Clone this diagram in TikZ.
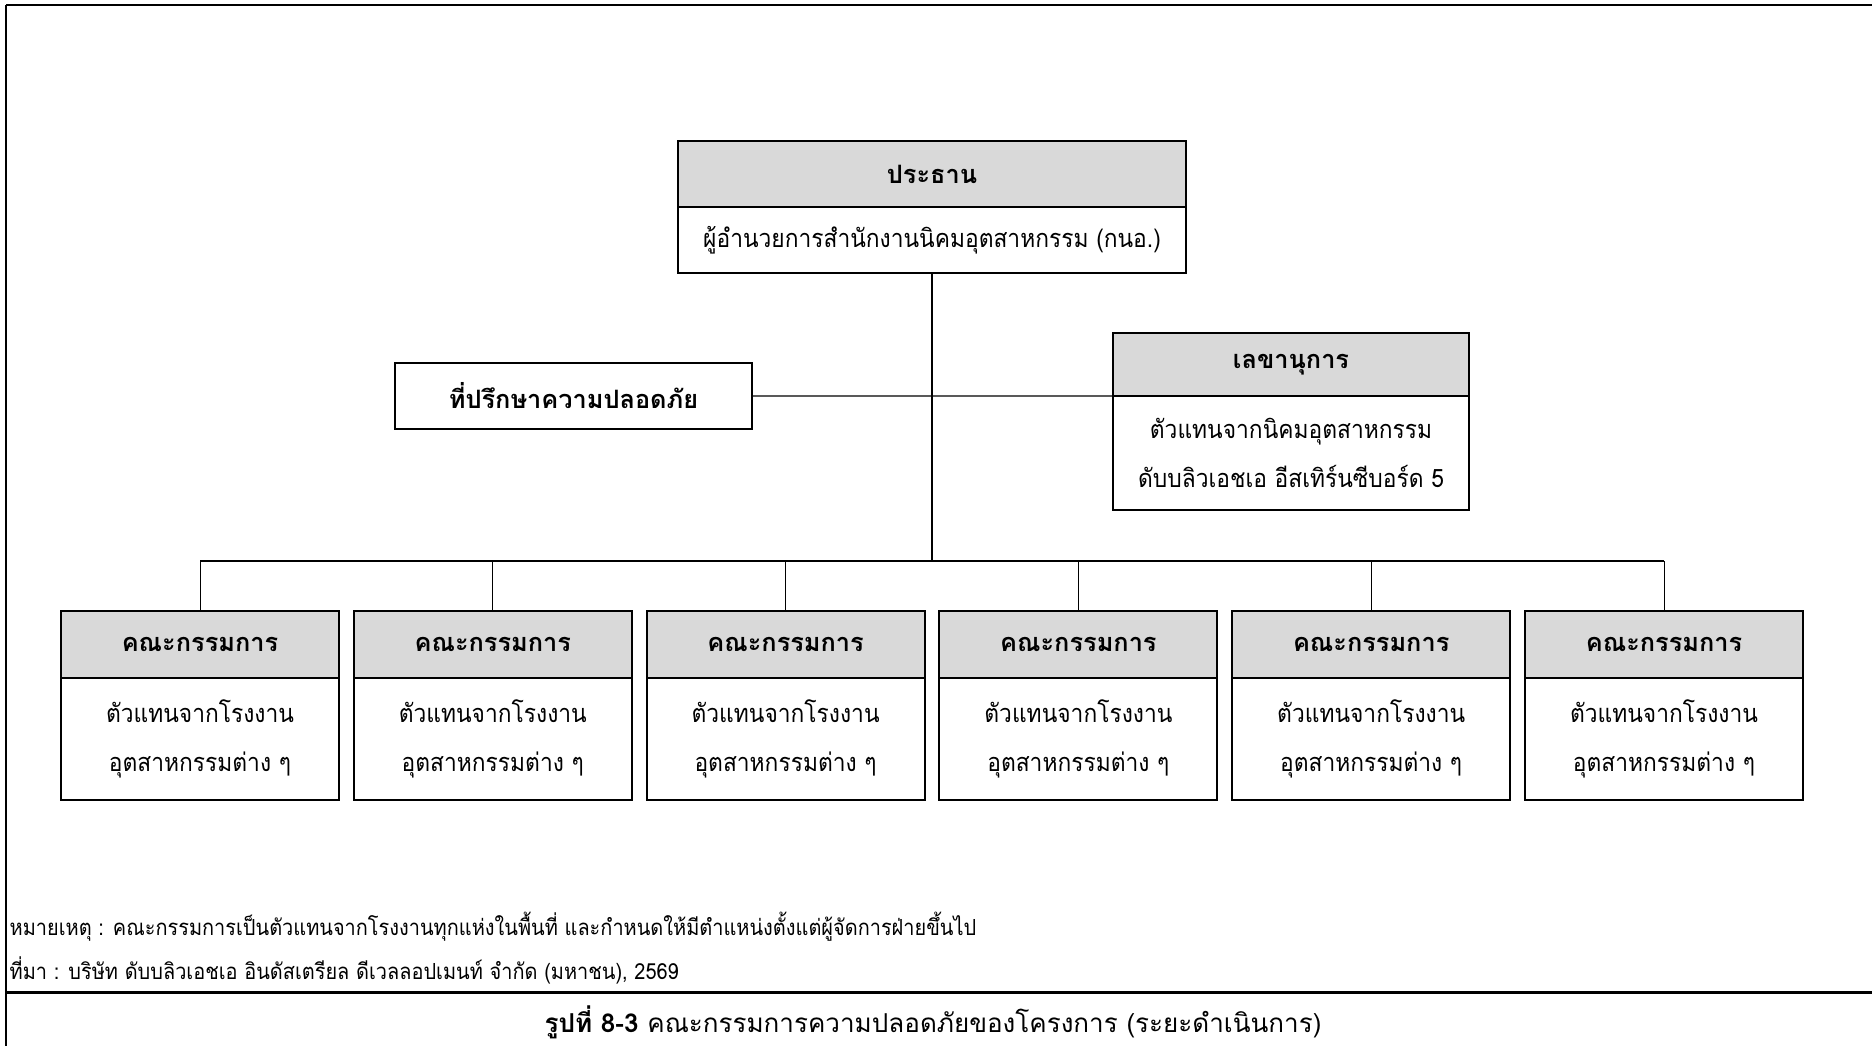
\documentclass[tikz,border=0pt]{standalone}
\usepackage{fontspec}
\setmainfont[Script=Thai]{Loma}
\newfontfamily\narrowthai[Script=Thai,FakeStretch=0.9]{Loma}
\usetikzlibrary{positioning}
\definecolor{HeadGray}{HTML}{D9D9D9}

\tikzset{
  headbox/.style={draw,line width=0.02cm,fill=HeadGray,inner sep=0pt,outer sep=0pt,
    minimum height=0.66cm,font=\fontsize{7.2}{13.9}\selectfont\bfseries},
  bodybox/.style={draw,line width=0.02cm,fill=white,inner sep=0pt,outer sep=0pt,
    align=center,font=\fontsize{7.2}{13.9}\selectfont\narrowthai},
  link/.style={line width=0.013cm},
  notetext/.style={anchor=west,inner sep=0pt,font=\fontsize{6.3}{8}\selectfont\narrowthai}
}

\begin{document}
\begin{tikzpicture}[x=0.01cm,y=-0.01cm]
  \useasboundingbox (0,0) rectangle (1872,1046);
  % frame
  \draw[line width=0.012cm] (6,5) -- (1872,5);
  \draw[line width=0.022cm] (6,5) -- (35,5);
  \draw[line width=0.022cm] (1843,5) -- (1872,5);
  \draw[line width=0.02cm] (6,5) -- (6,1046);
  \draw[line width=0.03cm] (6,992) -- (1872,992);

  % chair
  \node[headbox,minimum width=5.08cm] (chair) at (932,174) {ประธาน};
  \node[bodybox,minimum width=5.08cm,minimum height=0.66cm,below=0pt of chair] (chairbody)
    {ผู้อำนวยการสำนักงานนิคมอุตสาหกรรม (กนอ.)};

  % advisor and secretary
  \node[bodybox,minimum width=3.57cm,minimum height=0.66cm,font=\fontsize{7.2}{13.9}\selectfont\bfseries] (advisor) at (573.5,396)
    {ที่ปรึกษาความปลอดภัย};
  \node[headbox,minimum width=3.56cm,minimum height=0.63cm] (sec) at (1291,364.5) {เลขานุการ};
  \node[bodybox,minimum width=3.56cm,minimum height=1.14cm,below=0pt of sec] (secbody)
    {ตัวแทนจากนิคมอุตสาหกรรม\\ดับบลิวเอชเอ อีสเทิร์นซีบอร์ด 5};

  % bus
  \coordinate (busL) at (200,561);
  \coordinate (busR) at (1664,561);
  \draw[link] (chairbody.south) -- (chairbody.south |- busL);
  \draw[link] (advisor.east) -- (sec.south west);
  \draw[line width=0.018cm] (busL) -- (busR);

  % committees
  \foreach \i in {0,...,5}{
    \node[headbox,minimum width=2.78cm] (com\i) at ({200+292.8*\i},644.5) {คณะกรรมการ};
    \node[bodybox,minimum width=2.78cm,minimum height=1.22cm,below=0pt of com\i] (combody\i)
      {ตัวแทนจากโรงงาน\\อุตสาหกรรมต่าง ๆ};
    \draw[line width=0.01cm] (com\i.north) -- (com\i.north |- busL);
  }

  % notes
  \node[notetext] (note) at (9,927)
    {หมายเหตุ : คณะกรรมการเป็นตัวแทนจากโรงงานทุกแห่งในพื้นที่ และกำหนดให้มีตำแหน่งตั้งแต่ผู้จัดการฝ่ายขึ้นไป};
  \node[notetext] (source) at (9,970)
    {ที่มา : บริษัท ดับบลิวเอชเอ อินดัสเตรียล ดีเวลลอปเมนท์ จำกัด (มหาชน), 2569};
  \node[inner sep=0pt,font=\fontsize{7.4}{9}\selectfont] (caption) at (933,1022)
    {\textbf{รูปที่ 8-3} คณะกรรมการความปลอดภัยของโครงการ (ระยะดำเนินการ)};
\end{tikzpicture}
\end{document}
